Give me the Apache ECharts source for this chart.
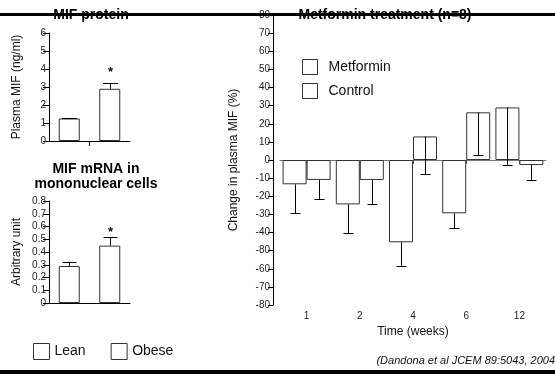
<!DOCTYPE html>
<html>
<head>
<meta charset="utf-8">
<script src="https://cdn.jsdelivr.net/npm/echarts@6/dist/echarts.min.js"></script>
<style>
  html, body { margin: 0; padding: 0; background: #fff; }
  #chart { width: 555px; height: 374px; }
</style>
</head>
<body>
<div id="chart"></div>
<script>
// left panels: lean vs obese
const groups = ['Lean', 'Obese']
const proteinValues = [1.25, 2.9]
const proteinErrTop = [1.28, 3.2]
const mrnaValues = [0.29, 0.45]
const mrnaErrTop = [0.325, 0.52]
const sigMarks = ['', '*']

// right panel: metformin treatment, % change
const weeks = ['1', '2', '4', '6', '12']
const metforminValues = [-13.4, -24.5, -45.4, -29.4, 29]
const metforminErrEnd = [-29.4, -40, -58.6, -37.5, -2.8]
const controlValues = [-11, -11, 13, 26.3, -2.8]
const controlErrEnd = [-21.5, -24.3, -7.7, 2.6, -11]
// tick labels as printed, bottom to top (the -50 tick reads "-80" in the source)
const changeTickLabels = ['-80', '-70', '-60', '-80', '-40', '-30', '-20', '-10', '0',
  '10', '20', '30', '40', '50', '60', '70', '80']

const FONT = 'Liberation Sans'
const INK = '#111'

const chart = echarts.init(document.getElementById('chart'))

// error whisker drawn from bar end to err end, cap at err end
const errorBars = (offset, capW, marks, starShift) => (params, api) => {
  const x = api.value(0)
  const base = api.coord([x, api.value(1)])
  const end = api.coord([x, api.value(2)])
  const cx = Math.round(base[0] + offset) + 0.5
  const ey = Math.round(end[1]) + 0.5
  const style = { stroke: '#000', lineWidth: 1 }
  const children = [
    { type: 'line', shape: { x1: cx, y1: base[1], x2: cx, y2: ey }, style },
    { type: 'line', shape: { x1: cx - capW / 2, y1: ey, x2: cx + capW / 2, y2: ey }, style }
  ]
  const mark = marks ? marks[params.dataIndex] : ''
  if (mark) {
    children.push({
      type: 'text',
      style: {
        text: mark, x: cx, y: ey + starShift, align: 'center', verticalAlign: 'bottom',
        font: 'bold 13px ' + FONT, fill: '#000'
      }
    })
  }
  return { type: 'group', children }
}

const toErrData = (values, ends) => values.map((v, i) => [i, v, ends[i]])

const axisText = { fontFamily: FONT, fontSize: 10, color: '#222' }
const barStyle = { color: '#fff', borderColor: '#333', borderWidth: 1 }
const titleFont = { fontFamily: FONT, fontWeight: 'bold', color: '#000' }

const leftY = (max, interval, name, fmt) => ({
  type: 'value', min: 0, max, interval,
  name, nameLocation: 'middle', nameGap: 26,
  nameTextStyle: { fontFamily: FONT, fontSize: 12, color: INK },
  axisLine: { show: true, lineStyle: { color: '#000' } },
  axisTick: { show: true, length: 6, lineStyle: { color: '#000' } },
  axisLabel: { ...axisText, margin: 3, formatter: fmt },
  splitLine: { show: false }
})

const option = {
  animation: false,
  backgroundColor: '#fff',
  title: [
    { text: 'MIF protein', left: 91, top: 8, padding: 0, textAlign: 'center',
      textStyle: { ...titleFont, fontSize: 14 } },
    { text: 'MIF mRNA in\nmononuclear cells', left: 96, top: 162, padding: 0, textAlign: 'center',
      textStyle: { ...titleFont, fontSize: 14, lineHeight: 15 } },
    { text: 'Metformin treatment (n=8)', left: 385, top: 8, padding: 0, textAlign: 'center',
      textStyle: { ...titleFont, fontSize: 14 } },
    { text: '(Dandona et al JCEM 89:5043, 2004', right: 0, top: 355, padding: 0,
      textStyle: { fontFamily: FONT, fontSize: 11, fontStyle: 'italic', fontWeight: 'normal', color: '#111' } }
  ],
  legend: [
    { data: ['Metformin', 'Control'], orient: 'vertical', left: 302, top: 59, padding: 0,
      icon: 'rect', itemWidth: 15, itemHeight: 15, itemGap: 8,
      itemStyle: { color: '#fff', borderColor: '#333', borderWidth: 1 },
      textStyle: { fontFamily: FONT, fontSize: 14, color: INK, padding: [0, 0, 0, 6] } },
    { data: groups, orient: 'horizontal', left: 33, top: 343, padding: 0,
      icon: 'rect', itemWidth: 16, itemHeight: 16, itemGap: 25,
      itemStyle: { color: '#fff', borderColor: '#333', borderWidth: 1 },
      textStyle: { fontFamily: FONT, fontSize: 14, color: INK } }
  ],
  grid: [
    { left: 49, width: 81, top: 33, height: 108 },
    { left: 49, width: 81, top: 201, height: 102 },
    { left: 280, right: 9, top: 15, bottom: 69 }
  ],
  xAxis: [
    { gridIndex: 0, type: 'category', data: groups,
      axisLine: { lineStyle: { color: '#000' } },
      axisTick: { show: false }, axisLabel: { show: false } },
    { gridIndex: 1, type: 'category', data: groups,
      axisLine: { lineStyle: { color: '#000' } },
      axisTick: { show: false }, axisLabel: { show: false } },
    { gridIndex: 2, type: 'category', data: weeks,
      name: 'Time (weeks)', nameLocation: 'middle', nameGap: 20,
      nameTextStyle: { fontFamily: FONT, fontSize: 12, color: INK },
      axisLine: { lineStyle: { color: '#777' } },
      axisTick: { show: true, alignWithLabel: true, length: 4, lineStyle: { color: '#555' } },
      axisLabel: { ...axisText, margin: 6 } },
    // only the middle divider tick shows under the protein panel
    { gridIndex: 0, type: 'value', min: 0, max: 2, position: 'bottom',
      axisLine: { show: false },
      axisTick: { show: true, customValues: [1], length: 5, lineStyle: { color: '#000' } },
      axisLabel: { show: false }, splitLine: { show: false } }
  ],
  yAxis: [
    leftY(6, 1, 'Plasma MIF (ng/ml)'),
    { ...leftY(0.8, 0.1, 'Arbitrary unit', (v) => (v === 0 ? '0' : v.toFixed(1))), gridIndex: 1 },
    { gridIndex: 2, type: 'value', min: -80, max: 80, interval: 10, offset: 7,
      name: 'Change in plasma MIF (%)', nameLocation: 'middle', nameGap: 33,
      nameTextStyle: { fontFamily: FONT, fontSize: 12, color: INK },
      axisLine: { show: true, lineStyle: { color: '#000' } },
      axisTick: { show: true, length: 5, lineStyle: { color: '#000' } },
      axisLabel: { ...axisText, margin: 3,
        formatter: (v) => changeTickLabels[Math.round((v + 80) / 10)] },
      splitLine: { show: false } }
  ],
  series: [
    // MIF protein
    { name: 'Lean', type: 'bar', xAxisIndex: 0, yAxisIndex: 0, barWidth: 21, barGap: '-100%',
      itemStyle: barStyle, data: [proteinValues[0], '-'] },
    { name: 'Obese', type: 'bar', xAxisIndex: 0, yAxisIndex: 0, barWidth: 21, barGap: '-100%',
      itemStyle: barStyle, data: ['-', proteinValues[1]] },
    { type: 'custom', xAxisIndex: 0, yAxisIndex: 0, z: 5,
      renderItem: errorBars(0, 15, sigMarks, -5),
      data: toErrData(proteinValues, proteinErrTop) },
    // MIF mRNA
    { name: 'Lean', type: 'bar', xAxisIndex: 1, yAxisIndex: 1, barWidth: 21, barGap: '-100%',
      itemStyle: barStyle, data: [mrnaValues[0], '-'] },
    { name: 'Obese', type: 'bar', xAxisIndex: 1, yAxisIndex: 1, barWidth: 21, barGap: '-100%',
      itemStyle: barStyle, data: ['-', mrnaValues[1]] },
    { type: 'custom', xAxisIndex: 1, yAxisIndex: 1, z: 5,
      renderItem: errorBars(0, 14, sigMarks, 1),
      data: toErrData(mrnaValues, mrnaErrTop) },
    // metformin treatment
    { name: 'Metformin', type: 'bar', xAxisIndex: 2, yAxisIndex: 2, barWidth: 24, barGap: '0%',
      itemStyle: barStyle, data: metforminValues },
    { name: 'Control', type: 'bar', xAxisIndex: 2, yAxisIndex: 2, barWidth: 24, barGap: '0%',
      itemStyle: barStyle, data: controlValues },
    { type: 'custom', xAxisIndex: 2, yAxisIndex: 2, z: 5,
      renderItem: errorBars(-12, 10), data: toErrData(metforminValues, metforminErrEnd) },
    { type: 'custom', xAxisIndex: 2, yAxisIndex: 2, z: 5,
      renderItem: errorBars(12, 10), data: toErrData(controlValues, controlErrEnd) }
  ],
  graphic: [
    // slide rules: top line strikes through the titles, bottom bar under the citation
    { type: 'rect', left: 0, top: 13, shape: { width: 555, height: 3 }, style: { fill: '#000' }, z: 100 },
    { type: 'rect', left: 0, top: 370, shape: { width: 555, height: 4 }, style: { fill: '#000' }, z: 100 }
  ]
}

chart.setOption(option)
window.addEventListener('resize', () => chart.resize())
</script>
</body>
</html>
